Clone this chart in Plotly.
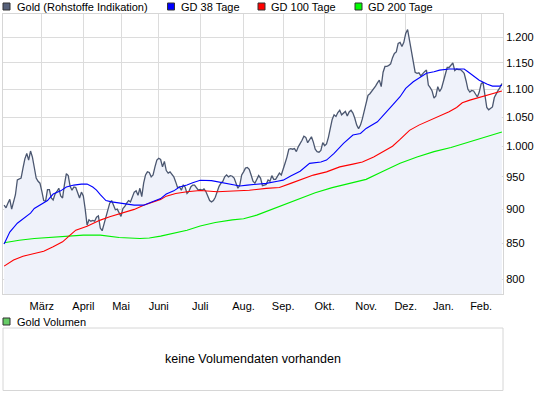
import plotly.graph_objects as go

# ---------------- data (trading-day index since start of window) ----------------
gold_close = [
    906, 902, 909, 915, 900, 913, 922, 945, 946, 948,
    964, 979, 988, 977, 992, 982, 965, 948, 943, 940,
    927, 913, 912, 930, 930, 917, 914, 923, 927, 932,
    920, 917, 938, 955, 952, 935, 929, 934, 933, 923,
    917, 926, 920, 900, 876, 884, 882, 883, 882, 888,
    890, 872, 868, 878, 888, 900, 909, 913, 906, 899,
    900, 894, 889, 901, 904, 909, 913, 911, 919, 926,
    928, 921, 932, 919, 940, 953, 958, 957, 950, 953,
    966, 977, 980, 978, 966, 975, 960, 956, 958, 953,
    950, 942, 933, 934, 929, 937, 934, 924, 927, 934,
    937, 937, 932, 929, 930, 929, 931, 927, 920, 913,
    911, 913, 918, 927, 935, 940, 943, 950, 953, 950,
    952, 951, 948, 940, 932, 937, 953, 958, 964, 965,
    962, 953, 943, 940, 945, 952, 948, 936, 937, 938,
    945, 943, 952, 946, 946, 950, 956, 953, 961, 972,
    982, 995, 996, 995, 996, 991, 999, 1004, 1010, 1017,
    1015, 1006, 1010, 1016, 1007, 995, 991, 990, 993, 1006,
    1001, 1004, 1015, 1030, 1046, 1054, 1051, 1058, 1062, 1054,
    1058, 1060, 1052, 1059, 1062, 1057, 1048, 1036, 1030, 1036,
    1047, 1060, 1078, 1089, 1092, 1096, 1102, 1106, 1112, 1117,
    1105, 1132, 1143, 1143, 1145, 1148, 1160, 1168, 1171, 1188,
    1190, 1182, 1190, 1208, 1216, 1195, 1168, 1152, 1132, 1130,
    1131, 1125, 1130, 1133, 1136, 1108, 1103, 1097, 1084, 1088,
    1105, 1096, 1102, 1115, 1130, 1141, 1141, 1146, 1150, 1135,
    1138, 1137, 1137, 1134, 1130, 1116, 1100, 1095, 1098, 1097,
    1092, 1086, 1095, 1110, 1113, 1090, 1067, 1063, 1065, 1068,
    1085, 1093, 1098, 1103, 1111,
]
gold_day = list(range(len(gold_close)))

gd38_day = [0, 3, 7, 10, 14, 16, 19, 23, 26, 30, 33, 37, 41, 44, 47, 49, 51, 54, 57,
            62, 69, 74, 79, 83, 86, 90, 93, 97, 100, 104, 110, 116, 122, 125, 129,
            134, 139, 145, 148, 152, 157, 162, 168, 171, 175, 180, 185, 189, 192,
            198, 203, 206, 210, 213, 217, 221, 224, 228, 231, 236, 244, 246, 249,
            252, 256, 259, 263, 264]
gd38_val = [849, 866, 879, 886, 894, 901, 906, 913, 923, 928, 934, 937, 938.5, 938.5,
            934, 929, 922, 913, 911, 908.6, 906, 906, 911, 916, 923, 928, 934, 937,
            940.5, 944.5, 944, 940.5, 937, 935.5, 937, 938.5, 939.7, 943, 944.8,
            951.4, 959, 971.7, 974, 977, 988, 1004.8, 1019, 1021.6, 1030.3, 1041.8,
            1059, 1071.3, 1086.5, 1101.7, 1114, 1122.2, 1130, 1133, 1136, 1138,
            1138, 1133, 1124.8, 1117, 1109.7, 1106, 1106, 1108]

gd100_day = [0, 5, 10, 16, 21, 26, 31, 35, 38, 44, 49, 51, 56, 62, 69, 74, 79, 83, 86,
             91, 97, 104, 113, 122, 130, 139, 146, 152, 157, 164, 171, 178, 185, 190,
             196, 201, 206, 210, 215, 220, 226, 231, 236, 240, 243, 247, 252, 258,
             263, 264]
gd100_val = [818, 826.4, 831.8, 835.6, 838.8, 845, 852, 861.6, 868.8, 874.7, 881.8,
             883.6, 888.5, 893.6, 899.6, 906, 911, 914.8, 919.8, 924, 926.5, 928.5,
             926.5, 928, 929, 931.8, 933.3, 939.7, 944.8, 952.8, 958, 966, 970.5,
             974, 982, 990.7, 1000, 1011.5, 1027, 1036, 1044.7, 1050.6, 1059.4,
             1067, 1075.4, 1080.3, 1085, 1091.3, 1095.4, 1097]

gd200_day = [0, 8, 16, 24, 33, 42, 51, 61, 72, 77, 83, 90, 97, 104, 112, 121, 127, 134,
             148, 157, 165, 174, 183, 192, 201, 210, 219, 228, 237, 245, 252, 259, 264]
gd200_val = [850.6, 854.4, 856.9, 858.3, 860.2, 861.6, 861.6, 858.3, 856.9, 857.5,
             860.2, 864.1, 868.8, 875, 880, 884, 885.5, 891, 906, 917, 925, 933, 940,
             946, 959, 972, 982, 991, 998, 1006, 1012, 1019, 1024]

month_day = [20, 42, 62, 82, 104, 127, 148, 170, 192, 213, 233, 253]
month_label = ["März", "April", "Mai", "Juni", "Juli", "Aug.", "Sep.", "Okt.",
               "Nov.", "Dez.", "Jan.", "Feb."]
y_ticks = [800, 850, 900, 950, 1000, 1050, 1100, 1150, 1200]
y_tick_text = [f"{v:,}".replace(",", ".") for v in y_ticks]

legend_names = ["Gold (Rohstoffe Indikation)", "GD 38 Tage", "GD 100 Tage", "GD 200 Tage"]

# ---------------- styling ----------------
FONT = "Liberation Sans, Arial, sans-serif"
W, H = 545, 395
ML, MR, MT, MB = 3, 42, 14, 101
GRID = "#dcdcdc"
GOLD = "#4b5770"
FILL = "#eff2fa"
BLUE, RED, GREEN = "#0000ff", "#ff0000", "#00f000"

PW, PH = W - ML - MR, H - MT - MB


def px(x):
    return (x - ML) / PW


def py(y):
    return (H - MB - y) / PH


fig = go.Figure()

# baseline for the area fill under the gold line
fig.add_trace(go.Scatter(x=[gold_day[0], gold_day[-1]], y=[600, 600], mode="lines",
                         line=dict(width=0, color=FILL), showlegend=False,
                         hoverinfo="skip"))
fig.add_trace(go.Scatter(x=gold_day, y=gold_close, mode="lines", name=legend_names[0],
                         line=dict(color=GOLD, width=1.3), fill="tonexty",
                         fillcolor=FILL, showlegend=False))
fig.add_trace(go.Scatter(x=gd200_day, y=gd200_val, mode="lines", name=legend_names[3],
                         line=dict(color=GREEN, width=1.1), showlegend=False))
fig.add_trace(go.Scatter(x=gd100_day, y=gd100_val, mode="lines", name=legend_names[2],
                         line=dict(color=RED, width=1.1), showlegend=False))
fig.add_trace(go.Scatter(x=gd38_day, y=gd38_val, mode="lines", name=legend_names[1],
                         line=dict(color=BLUE, width=1.1), showlegend=False))

shapes = []
annotations = []

# custom legend row at the top
leg_sq_x = [3, 167.5, 258, 355]
leg_txt_x = [14.5, 178.5, 269, 366]
leg_cols = ["#56617a", BLUE, RED, "#00ff00"]
for sx, tx, col, name in zip(leg_sq_x, leg_txt_x, leg_cols, legend_names):
    shapes.append(dict(type="rect", xref="paper", yref="paper",
                       x0=px(sx), x1=px(sx + 7), y0=py(10), y1=py(3),
                       fillcolor=col, line=dict(color="#333333", width=1)))
    annotations.append(dict(text=name, xref="paper", yref="paper", x=px(tx), y=py(6.5),
                            xanchor="left", yanchor="middle", showarrow=False,
                            font=dict(family=FONT, size=11, color="#000000")))

# volume panel
shapes.append(dict(type="rect", xref="paper", yref="paper",
                   x0=px(3), x1=px(503), y0=py(390.5), y1=py(328),
                   fillcolor="white", line=dict(color="#d6d6d6", width=1)))
shapes.append(dict(type="rect", xref="paper", yref="paper",
                   x0=px(3), x1=px(10), y0=py(325), y1=py(318),
                   fillcolor="#66cc66", line=dict(color="#333333", width=1)))
annotations.append(dict(text="Gold Volumen", xref="paper", yref="paper", x=px(14.5),
                        y=py(321.5), xanchor="left", yanchor="middle", showarrow=False,
                        font=dict(family=FONT, size=11, color="#000000")))
annotations.append(dict(text="keine Volumendaten vorhanden", xref="paper", yref="paper",
                        x=px(253), y=py(359), xanchor="center", yanchor="middle",
                        showarrow=False,
                        font=dict(family=FONT, size=12.5, color="#000000")))

fig.update_layout(
    width=W, height=H,
    margin=dict(l=ML, r=MR, t=MT, b=MB, pad=0),
    paper_bgcolor="white", plot_bgcolor="white",
    font=dict(family=FONT, size=11, color="#000000"),
    showlegend=False,
    shapes=shapes, annotations=annotations,
    xaxis=dict(range=[-0.6, 264.6], tickmode="array", tickvals=month_day,
               ticktext=month_label, showgrid=True, gridcolor=GRID, gridwidth=1,
               zeroline=False, showline=True, linecolor="#d6d6d6", mirror=True,
               ticks="outside", ticklen=2, tickcolor="rgba(0,0,0,0)",
               tickfont=dict(size=11)),
    yaxis=dict(type="log", range=[2.8925, 3.0962], side="right", tickmode="array",
               tickvals=y_ticks, ticktext=y_tick_text, showgrid=True, gridcolor=GRID,
               gridwidth=1, zeroline=False, showline=True, linecolor="#d6d6d6",
               mirror=True, ticks="", tickfont=dict(size=11)),
)

fig.write_html(
    "out.html",
    config={"displayModeBar": False},
    post_script="document.body.style.margin='0';document.body.style.overflow='hidden';",
)
